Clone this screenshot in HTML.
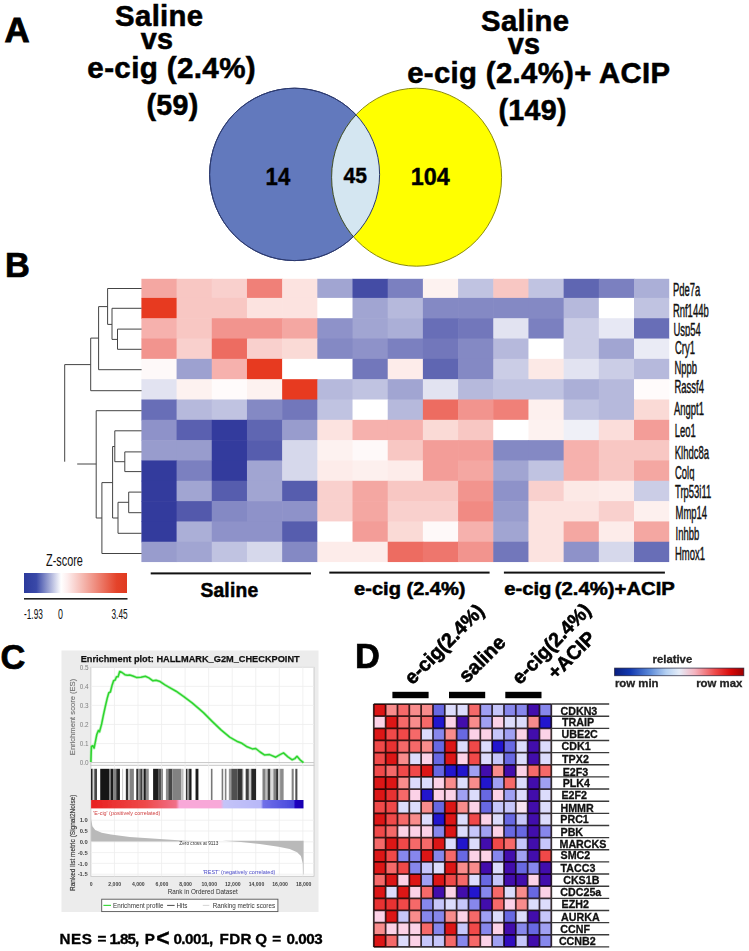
<!DOCTYPE html>
<html><head><meta charset="utf-8"><title>Figure</title>
<style>
html,body{margin:0;padding:0;background:#fff;}
body{width:749px;height:951px;overflow:hidden;font-family:'Liberation Sans', sans-serif;}
svg{display:block;font-family:'Liberation Sans',sans-serif;}
</style></head><body>
<svg width="749" height="951" viewBox="0 0 749 951">
<rect width="749" height="951" fill="#fff"/>
<text x="4.6" y="42" font-size="34.8" font-weight="bold" text-anchor="start" fill="#000" stroke="#000" stroke-width="0.9">A</text>
<text x="159.3" y="25.6" font-size="29.3" font-weight="bold" text-anchor="middle" fill="#000" stroke="#000" stroke-width="0.55" letter-spacing="0.35">Saline</text>
<text x="157" y="49.4" font-size="28.8" font-weight="bold" text-anchor="middle" fill="#000" stroke="#000" stroke-width="0.55" letter-spacing="0.35">vs</text>
<text x="171.7" y="77.6" font-size="29.6" font-weight="bold" text-anchor="middle" fill="#000" stroke="#000" stroke-width="0.55" letter-spacing="0.35">e-cig (2.4%)</text>
<text x="172.6" y="115.2" font-size="28.6" font-weight="bold" text-anchor="middle" fill="#000" stroke="#000" stroke-width="0.55" letter-spacing="0.35">(59)</text>
<text x="525.2" y="30.8" font-size="29.3" font-weight="bold" text-anchor="middle" fill="#000" stroke="#000" stroke-width="0.55" letter-spacing="0.35">Saline</text>
<text x="524" y="53.6" font-size="28.8" font-weight="bold" text-anchor="middle" fill="#000" stroke="#000" stroke-width="0.55" letter-spacing="0.35">vs</text>
<text x="538.8" y="83.2" font-size="29.3" font-weight="bold" text-anchor="middle" fill="#000" stroke="#000" stroke-width="0.55" letter-spacing="0.35">e-cig (2.4%)+ ACIP</text>
<text x="532.7" y="120.4" font-size="28.6" font-weight="bold" text-anchor="middle" fill="#000" stroke="#000" stroke-width="0.55" letter-spacing="0.35">(149)</text>
<defs><clipPath id="cb"><ellipse cx="294.6" cy="174.4" rx="85" ry="86.2"/></clipPath></defs>
<ellipse cx="294.6" cy="174.4" rx="85" ry="86.2" fill="#6279bd" stroke="#2c3a70" stroke-width="1"/>
<ellipse cx="416.6" cy="177.2" rx="85" ry="89" fill="#ffff00" stroke="#8a8a10" stroke-width="1"/>
<ellipse cx="416.6" cy="177.2" rx="85" ry="89" fill="#d4e6f1" stroke="#3a4a40" stroke-width="1" clip-path="url(#cb)"/>
<ellipse cx="294.6" cy="174.4" rx="85" ry="86.2" fill="none" stroke="#2c3a70" stroke-width="1"/>
<text transform="translate(277.9 184.8) scale(0.9 1)" font-size="24.6" font-weight="bold" text-anchor="middle" fill="#000" stroke="#000" stroke-width="0.4">14</text>
<text transform="translate(355.3 183) scale(0.95 1)" font-size="22.2" font-weight="bold" text-anchor="middle" fill="#000" stroke="#000" stroke-width="0.4">45</text>
<text transform="translate(430.3 185.3) scale(0.95 1)" font-size="24.6" font-weight="bold" text-anchor="middle" fill="#000" stroke="#000" stroke-width="0.4">104</text>
<text x="4.9" y="277.2" font-size="34.4" font-weight="bold" text-anchor="start" fill="#000" stroke="#000" stroke-width="0.7">B</text>
<rect x="141.40" y="278.80" width="35.79" height="19.70" fill="rgb(244,167,162)"/>
<rect x="176.59" y="278.80" width="35.79" height="19.70" fill="rgb(248,199,195)"/>
<rect x="211.77" y="278.80" width="35.79" height="19.70" fill="rgb(249,208,205)"/>
<rect x="246.96" y="278.80" width="35.79" height="19.70" fill="rgb(240,128,120)"/>
<rect x="282.15" y="278.80" width="35.79" height="19.70" fill="rgb(252,227,224)"/>
<rect x="317.33" y="278.80" width="35.79" height="19.70" fill="rgb(161,165,210)"/>
<rect x="352.52" y="278.80" width="35.79" height="19.70" fill="rgb(68,76,165)"/>
<rect x="387.71" y="278.80" width="35.79" height="19.70" fill="rgb(123,128,192)"/>
<rect x="422.89" y="278.80" width="35.79" height="19.70" fill="rgb(253,242,240)"/>
<rect x="458.08" y="278.80" width="35.79" height="19.70" fill="rgb(192,195,225)"/>
<rect x="493.27" y="278.80" width="35.79" height="19.70" fill="rgb(248,199,195)"/>
<rect x="528.45" y="278.80" width="35.79" height="19.70" fill="rgb(192,195,225)"/>
<rect x="563.64" y="278.80" width="35.79" height="19.70" fill="rgb(95,102,178)"/>
<rect x="598.83" y="278.80" width="35.79" height="19.70" fill="rgb(123,128,192)"/>
<rect x="634.01" y="278.80" width="35.19" height="19.70" fill="rgb(171,175,215)"/>
<rect x="141.40" y="297.90" width="35.79" height="20.92" fill="rgb(231,58,32)"/>
<rect x="176.59" y="297.90" width="35.79" height="20.92" fill="rgb(248,199,195)"/>
<rect x="211.77" y="297.90" width="35.79" height="20.92" fill="rgb(248,199,195)"/>
<rect x="246.96" y="297.90" width="35.79" height="20.92" fill="rgb(252,227,224)"/>
<rect x="282.15" y="297.90" width="35.79" height="20.92" fill="rgb(252,227,224)"/>
<rect x="317.33" y="297.90" width="35.79" height="20.92" fill="rgb(255,255,255)"/>
<rect x="352.52" y="297.90" width="35.79" height="20.92" fill="rgb(161,165,210)"/>
<rect x="387.71" y="297.90" width="35.79" height="20.92" fill="rgb(182,185,220)"/>
<rect x="422.89" y="297.90" width="35.79" height="20.92" fill="rgb(132,137,196)"/>
<rect x="458.08" y="297.90" width="35.79" height="20.92" fill="rgb(132,137,196)"/>
<rect x="493.27" y="297.90" width="35.79" height="20.92" fill="rgb(132,137,196)"/>
<rect x="528.45" y="297.90" width="35.79" height="20.92" fill="rgb(132,137,196)"/>
<rect x="563.64" y="297.90" width="35.79" height="20.92" fill="rgb(182,185,220)"/>
<rect x="598.83" y="297.90" width="35.79" height="20.92" fill="rgb(255,255,255)"/>
<rect x="634.01" y="297.90" width="35.19" height="20.92" fill="rgb(192,195,225)"/>
<rect x="141.40" y="318.22" width="35.79" height="20.92" fill="rgb(246,177,173)"/>
<rect x="176.59" y="318.22" width="35.79" height="20.92" fill="rgb(248,199,195)"/>
<rect x="211.77" y="318.22" width="35.79" height="20.92" fill="rgb(242,148,142)"/>
<rect x="246.96" y="318.22" width="35.79" height="20.92" fill="rgb(242,148,142)"/>
<rect x="282.15" y="318.22" width="35.79" height="20.92" fill="rgb(244,167,162)"/>
<rect x="317.33" y="318.22" width="35.79" height="20.92" fill="rgb(142,146,201)"/>
<rect x="352.52" y="318.22" width="35.79" height="20.92" fill="rgb(161,165,210)"/>
<rect x="387.71" y="318.22" width="35.79" height="20.92" fill="rgb(171,175,215)"/>
<rect x="422.89" y="318.22" width="35.79" height="20.92" fill="rgb(104,110,183)"/>
<rect x="458.08" y="318.22" width="35.79" height="20.92" fill="rgb(114,119,187)"/>
<rect x="493.27" y="318.22" width="35.79" height="20.92" fill="rgb(226,227,241)"/>
<rect x="528.45" y="318.22" width="35.79" height="20.92" fill="rgb(123,128,192)"/>
<rect x="563.64" y="318.22" width="35.79" height="20.92" fill="rgb(203,205,230)"/>
<rect x="598.83" y="318.22" width="35.79" height="20.92" fill="rgb(231,232,244)"/>
<rect x="634.01" y="318.22" width="35.19" height="20.92" fill="rgb(104,110,183)"/>
<rect x="141.40" y="338.54" width="35.79" height="20.92" fill="rgb(242,148,142)"/>
<rect x="176.59" y="338.54" width="35.79" height="20.92" fill="rgb(249,208,205)"/>
<rect x="211.77" y="338.54" width="35.79" height="20.92" fill="rgb(237,108,97)"/>
<rect x="246.96" y="338.54" width="35.79" height="20.92" fill="rgb(249,208,205)"/>
<rect x="282.15" y="338.54" width="35.79" height="20.92" fill="rgb(250,218,214)"/>
<rect x="317.33" y="338.54" width="35.79" height="20.92" fill="rgb(132,137,196)"/>
<rect x="352.52" y="338.54" width="35.79" height="20.92" fill="rgb(142,146,201)"/>
<rect x="387.71" y="338.54" width="35.79" height="20.92" fill="rgb(123,128,192)"/>
<rect x="422.89" y="338.54" width="35.79" height="20.92" fill="rgb(114,119,187)"/>
<rect x="458.08" y="338.54" width="35.79" height="20.92" fill="rgb(132,137,196)"/>
<rect x="493.27" y="338.54" width="35.79" height="20.92" fill="rgb(182,185,220)"/>
<rect x="528.45" y="338.54" width="35.79" height="20.92" fill="rgb(255,255,255)"/>
<rect x="563.64" y="338.54" width="35.79" height="20.92" fill="rgb(203,205,230)"/>
<rect x="598.83" y="338.54" width="35.79" height="20.92" fill="rgb(161,165,210)"/>
<rect x="634.01" y="338.54" width="35.19" height="20.92" fill="rgb(234,235,245)"/>
<rect x="141.40" y="358.86" width="35.79" height="20.92" fill="rgb(254,249,249)"/>
<rect x="176.59" y="358.86" width="35.79" height="20.92" fill="rgb(157,161,208)"/>
<rect x="211.77" y="358.86" width="35.79" height="20.92" fill="rgb(246,177,173)"/>
<rect x="246.96" y="358.86" width="35.79" height="20.92" fill="rgb(231,58,32)"/>
<rect x="282.15" y="358.86" width="35.79" height="20.92" fill="rgb(255,255,255)"/>
<rect x="317.33" y="358.86" width="35.79" height="20.92" fill="rgb(255,255,255)"/>
<rect x="352.52" y="358.86" width="35.79" height="20.92" fill="rgb(114,119,187)"/>
<rect x="387.71" y="358.86" width="35.79" height="20.92" fill="rgb(253,236,234)"/>
<rect x="422.89" y="358.86" width="35.79" height="20.92" fill="rgb(95,102,178)"/>
<rect x="458.08" y="358.86" width="35.79" height="20.92" fill="rgb(132,137,196)"/>
<rect x="493.27" y="358.86" width="35.79" height="20.92" fill="rgb(203,205,230)"/>
<rect x="528.45" y="358.86" width="35.79" height="20.92" fill="rgb(252,233,230)"/>
<rect x="563.64" y="358.86" width="35.79" height="20.92" fill="rgb(226,227,241)"/>
<rect x="598.83" y="358.86" width="35.79" height="20.92" fill="rgb(203,205,230)"/>
<rect x="634.01" y="358.86" width="35.19" height="20.92" fill="rgb(182,185,220)"/>
<rect x="141.40" y="379.18" width="35.79" height="20.92" fill="rgb(226,227,241)"/>
<rect x="176.59" y="379.18" width="35.79" height="20.92" fill="rgb(253,242,240)"/>
<rect x="211.77" y="379.18" width="35.79" height="20.92" fill="rgb(255,251,251)"/>
<rect x="246.96" y="379.18" width="35.79" height="20.92" fill="rgb(253,242,240)"/>
<rect x="282.15" y="379.18" width="35.79" height="20.92" fill="rgb(231,58,32)"/>
<rect x="317.33" y="379.18" width="35.79" height="20.92" fill="rgb(182,185,220)"/>
<rect x="352.52" y="379.18" width="35.79" height="20.92" fill="rgb(192,195,225)"/>
<rect x="387.71" y="379.18" width="35.79" height="20.92" fill="rgb(161,165,210)"/>
<rect x="422.89" y="379.18" width="35.79" height="20.92" fill="rgb(226,227,241)"/>
<rect x="458.08" y="379.18" width="35.79" height="20.92" fill="rgb(182,185,220)"/>
<rect x="493.27" y="379.18" width="35.79" height="20.92" fill="rgb(192,195,225)"/>
<rect x="528.45" y="379.18" width="35.79" height="20.92" fill="rgb(192,195,225)"/>
<rect x="563.64" y="379.18" width="35.79" height="20.92" fill="rgb(171,175,215)"/>
<rect x="598.83" y="379.18" width="35.79" height="20.92" fill="rgb(182,185,220)"/>
<rect x="634.01" y="379.18" width="35.19" height="20.92" fill="rgb(255,251,251)"/>
<rect x="141.40" y="399.50" width="35.79" height="20.92" fill="rgb(104,110,183)"/>
<rect x="176.59" y="399.50" width="35.79" height="20.92" fill="rgb(182,185,220)"/>
<rect x="211.77" y="399.50" width="35.79" height="20.92" fill="rgb(192,195,225)"/>
<rect x="246.96" y="399.50" width="35.79" height="20.92" fill="rgb(132,137,196)"/>
<rect x="282.15" y="399.50" width="35.79" height="20.92" fill="rgb(114,119,187)"/>
<rect x="317.33" y="399.50" width="35.79" height="20.92" fill="rgb(192,195,225)"/>
<rect x="352.52" y="399.50" width="35.79" height="20.92" fill="rgb(255,255,255)"/>
<rect x="387.71" y="399.50" width="35.79" height="20.92" fill="rgb(182,185,220)"/>
<rect x="422.89" y="399.50" width="35.79" height="20.92" fill="rgb(237,108,97)"/>
<rect x="458.08" y="399.50" width="35.79" height="20.92" fill="rgb(242,148,142)"/>
<rect x="493.27" y="399.50" width="35.79" height="20.92" fill="rgb(240,128,120)"/>
<rect x="528.45" y="399.50" width="35.79" height="20.92" fill="rgb(253,240,238)"/>
<rect x="563.64" y="399.50" width="35.79" height="20.92" fill="rgb(192,195,225)"/>
<rect x="598.83" y="399.50" width="35.79" height="20.92" fill="rgb(182,185,220)"/>
<rect x="634.01" y="399.50" width="35.19" height="20.92" fill="rgb(250,218,214)"/>
<rect x="141.40" y="419.82" width="35.79" height="20.92" fill="rgb(142,146,201)"/>
<rect x="176.59" y="419.82" width="35.79" height="20.92" fill="rgb(90,96,176)"/>
<rect x="211.77" y="419.82" width="35.79" height="20.92" fill="rgb(51,59,157)"/>
<rect x="246.96" y="419.82" width="35.79" height="20.92" fill="rgb(95,102,178)"/>
<rect x="282.15" y="419.82" width="35.79" height="20.92" fill="rgb(152,156,205)"/>
<rect x="317.33" y="419.82" width="35.79" height="20.92" fill="rgb(252,227,224)"/>
<rect x="352.52" y="419.82" width="35.79" height="20.92" fill="rgb(246,177,173)"/>
<rect x="387.71" y="419.82" width="35.79" height="20.92" fill="rgb(246,177,173)"/>
<rect x="422.89" y="419.82" width="35.79" height="20.92" fill="rgb(250,218,214)"/>
<rect x="458.08" y="419.82" width="35.79" height="20.92" fill="rgb(248,199,195)"/>
<rect x="493.27" y="419.82" width="35.79" height="20.92" fill="rgb(255,255,255)"/>
<rect x="528.45" y="419.82" width="35.79" height="20.92" fill="rgb(253,242,240)"/>
<rect x="563.64" y="419.82" width="35.79" height="20.92" fill="rgb(239,240,247)"/>
<rect x="598.83" y="419.82" width="35.79" height="20.92" fill="rgb(251,221,218)"/>
<rect x="634.01" y="419.82" width="35.19" height="20.92" fill="rgb(243,157,152)"/>
<rect x="141.40" y="440.14" width="35.79" height="20.92" fill="rgb(152,156,205)"/>
<rect x="176.59" y="440.14" width="35.79" height="20.92" fill="rgb(152,156,205)"/>
<rect x="211.77" y="440.14" width="35.79" height="20.92" fill="rgb(51,59,157)"/>
<rect x="246.96" y="440.14" width="35.79" height="20.92" fill="rgb(86,93,174)"/>
<rect x="282.15" y="440.14" width="35.79" height="20.92" fill="rgb(214,216,235)"/>
<rect x="317.33" y="440.14" width="35.79" height="20.92" fill="rgb(253,242,240)"/>
<rect x="352.52" y="440.14" width="35.79" height="20.92" fill="rgb(254,249,249)"/>
<rect x="387.71" y="440.14" width="35.79" height="20.92" fill="rgb(248,199,195)"/>
<rect x="422.89" y="440.14" width="35.79" height="20.92" fill="rgb(243,157,152)"/>
<rect x="458.08" y="440.14" width="35.79" height="20.92" fill="rgb(243,157,152)"/>
<rect x="493.27" y="440.14" width="35.79" height="20.92" fill="rgb(132,137,196)"/>
<rect x="528.45" y="440.14" width="35.79" height="20.92" fill="rgb(132,137,196)"/>
<rect x="563.64" y="440.14" width="35.79" height="20.92" fill="rgb(246,177,173)"/>
<rect x="598.83" y="440.14" width="35.79" height="20.92" fill="rgb(248,199,195)"/>
<rect x="634.01" y="440.14" width="35.19" height="20.92" fill="rgb(248,199,195)"/>
<rect x="141.40" y="460.46" width="35.79" height="20.92" fill="rgb(51,59,157)"/>
<rect x="176.59" y="460.46" width="35.79" height="20.92" fill="rgb(123,128,192)"/>
<rect x="211.77" y="460.46" width="35.79" height="20.92" fill="rgb(51,59,157)"/>
<rect x="246.96" y="460.46" width="35.79" height="20.92" fill="rgb(161,165,210)"/>
<rect x="282.15" y="460.46" width="35.79" height="20.92" fill="rgb(214,216,235)"/>
<rect x="317.33" y="460.46" width="35.79" height="20.92" fill="rgb(253,236,234)"/>
<rect x="352.52" y="460.46" width="35.79" height="20.92" fill="rgb(253,240,238)"/>
<rect x="387.71" y="460.46" width="35.79" height="20.92" fill="rgb(253,236,234)"/>
<rect x="422.89" y="460.46" width="35.79" height="20.92" fill="rgb(243,157,152)"/>
<rect x="458.08" y="460.46" width="35.79" height="20.92" fill="rgb(244,167,162)"/>
<rect x="493.27" y="460.46" width="35.79" height="20.92" fill="rgb(161,165,210)"/>
<rect x="528.45" y="460.46" width="35.79" height="20.92" fill="rgb(192,195,225)"/>
<rect x="563.64" y="460.46" width="35.79" height="20.92" fill="rgb(246,177,173)"/>
<rect x="598.83" y="460.46" width="35.79" height="20.92" fill="rgb(248,199,195)"/>
<rect x="634.01" y="460.46" width="35.19" height="20.92" fill="rgb(244,167,162)"/>
<rect x="141.40" y="480.78" width="35.79" height="20.92" fill="rgb(51,59,157)"/>
<rect x="176.59" y="480.78" width="35.79" height="20.92" fill="rgb(161,165,210)"/>
<rect x="211.77" y="480.78" width="35.79" height="20.92" fill="rgb(86,93,174)"/>
<rect x="246.96" y="480.78" width="35.79" height="20.92" fill="rgb(161,165,210)"/>
<rect x="282.15" y="480.78" width="35.79" height="20.92" fill="rgb(86,93,174)"/>
<rect x="317.33" y="480.78" width="35.79" height="20.92" fill="rgb(249,208,205)"/>
<rect x="352.52" y="480.78" width="35.79" height="20.92" fill="rgb(244,167,162)"/>
<rect x="387.71" y="480.78" width="35.79" height="20.92" fill="rgb(248,199,195)"/>
<rect x="422.89" y="480.78" width="35.79" height="20.92" fill="rgb(248,199,195)"/>
<rect x="458.08" y="480.78" width="35.79" height="20.92" fill="rgb(242,148,142)"/>
<rect x="493.27" y="480.78" width="35.79" height="20.92" fill="rgb(142,146,201)"/>
<rect x="528.45" y="480.78" width="35.79" height="20.92" fill="rgb(249,208,205)"/>
<rect x="563.64" y="480.78" width="35.79" height="20.92" fill="rgb(252,233,230)"/>
<rect x="598.83" y="480.78" width="35.79" height="20.92" fill="rgb(253,236,234)"/>
<rect x="634.01" y="480.78" width="35.19" height="20.92" fill="rgb(203,205,230)"/>
<rect x="141.40" y="501.10" width="35.79" height="20.92" fill="rgb(51,59,157)"/>
<rect x="176.59" y="501.10" width="35.79" height="20.92" fill="rgb(83,89,172)"/>
<rect x="211.77" y="501.10" width="35.79" height="20.92" fill="rgb(132,137,196)"/>
<rect x="246.96" y="501.10" width="35.79" height="20.92" fill="rgb(142,146,201)"/>
<rect x="282.15" y="501.10" width="35.79" height="20.92" fill="rgb(142,146,201)"/>
<rect x="317.33" y="501.10" width="35.79" height="20.92" fill="rgb(249,208,205)"/>
<rect x="352.52" y="501.10" width="35.79" height="20.92" fill="rgb(244,167,162)"/>
<rect x="387.71" y="501.10" width="35.79" height="20.92" fill="rgb(249,208,205)"/>
<rect x="422.89" y="501.10" width="35.79" height="20.92" fill="rgb(249,208,205)"/>
<rect x="458.08" y="501.10" width="35.79" height="20.92" fill="rgb(241,138,131)"/>
<rect x="493.27" y="501.10" width="35.79" height="20.92" fill="rgb(152,156,205)"/>
<rect x="528.45" y="501.10" width="35.79" height="20.92" fill="rgb(252,227,224)"/>
<rect x="563.64" y="501.10" width="35.79" height="20.92" fill="rgb(252,227,224)"/>
<rect x="598.83" y="501.10" width="35.79" height="20.92" fill="rgb(249,208,205)"/>
<rect x="634.01" y="501.10" width="35.19" height="20.92" fill="rgb(253,240,238)"/>
<rect x="141.40" y="521.42" width="35.79" height="20.92" fill="rgb(51,59,157)"/>
<rect x="176.59" y="521.42" width="35.79" height="20.92" fill="rgb(171,175,215)"/>
<rect x="211.77" y="521.42" width="35.79" height="20.92" fill="rgb(142,146,201)"/>
<rect x="246.96" y="521.42" width="35.79" height="20.92" fill="rgb(142,146,201)"/>
<rect x="282.15" y="521.42" width="35.79" height="20.92" fill="rgb(86,93,174)"/>
<rect x="317.33" y="521.42" width="35.79" height="20.92" fill="rgb(255,255,255)"/>
<rect x="352.52" y="521.42" width="35.79" height="20.92" fill="rgb(243,157,152)"/>
<rect x="387.71" y="521.42" width="35.79" height="20.92" fill="rgb(250,218,214)"/>
<rect x="422.89" y="521.42" width="35.79" height="20.92" fill="rgb(254,249,249)"/>
<rect x="458.08" y="521.42" width="35.79" height="20.92" fill="rgb(246,177,173)"/>
<rect x="493.27" y="521.42" width="35.79" height="20.92" fill="rgb(161,165,210)"/>
<rect x="528.45" y="521.42" width="35.79" height="20.92" fill="rgb(252,227,224)"/>
<rect x="563.64" y="521.42" width="35.79" height="20.92" fill="rgb(244,167,162)"/>
<rect x="598.83" y="521.42" width="35.79" height="20.92" fill="rgb(253,236,234)"/>
<rect x="634.01" y="521.42" width="35.19" height="20.92" fill="rgb(244,167,162)"/>
<rect x="141.40" y="541.74" width="35.79" height="20.32" fill="rgb(152,156,205)"/>
<rect x="176.59" y="541.74" width="35.79" height="20.32" fill="rgb(161,165,210)"/>
<rect x="211.77" y="541.74" width="35.79" height="20.32" fill="rgb(192,195,225)"/>
<rect x="246.96" y="541.74" width="35.79" height="20.32" fill="rgb(214,216,235)"/>
<rect x="282.15" y="541.74" width="35.79" height="20.32" fill="rgb(132,137,196)"/>
<rect x="317.33" y="541.74" width="35.79" height="20.32" fill="rgb(253,236,234)"/>
<rect x="352.52" y="541.74" width="35.79" height="20.32" fill="rgb(253,236,234)"/>
<rect x="387.71" y="541.74" width="35.79" height="20.32" fill="rgb(237,108,97)"/>
<rect x="422.89" y="541.74" width="35.79" height="20.32" fill="rgb(238,118,109)"/>
<rect x="458.08" y="541.74" width="35.79" height="20.32" fill="rgb(242,148,142)"/>
<rect x="493.27" y="541.74" width="35.79" height="20.32" fill="rgb(114,119,187)"/>
<rect x="528.45" y="541.74" width="35.79" height="20.32" fill="rgb(252,227,224)"/>
<rect x="563.64" y="541.74" width="35.79" height="20.32" fill="rgb(142,146,201)"/>
<rect x="598.83" y="541.74" width="35.79" height="20.32" fill="rgb(214,216,235)"/>
<rect x="634.01" y="541.74" width="35.19" height="20.32" fill="rgb(104,110,183)"/>
<text transform="translate(672.9 295.6) scale(0.52 1)" font-size="18.2" font-weight="normal" text-anchor="start" fill="#111" stroke="#111" stroke-width="0.45">Pde7a</text>
<text transform="translate(672.9 317) scale(0.52 1)" font-size="18.2" font-weight="normal" text-anchor="start" fill="#111" stroke="#111" stroke-width="0.45">Rnf144b</text>
<defs><clipPath id="clUsp54"><rect x="668" y="317.5" width="81" height="19.0"/></clipPath></defs><g clip-path="url(#clUsp54)">
<text transform="translate(673.5 335.5) scale(0.52 1)" font-size="18.2" font-weight="normal" text-anchor="start" fill="#111" stroke="#111" stroke-width="0.45">Usp54</text>
</g>
<text transform="translate(675 353.6) scale(0.52 1)" font-size="18.2" font-weight="normal" text-anchor="start" fill="#111" stroke="#111" stroke-width="0.45">Cry1</text>
<defs><clipPath id="clNppb"><rect x="668" y="356.4" width="81" height="21.0"/></clipPath></defs><g clip-path="url(#clNppb)">
<text transform="translate(674.5 374.4) scale(0.52 1)" font-size="18.2" font-weight="normal" text-anchor="start" fill="#111" stroke="#111" stroke-width="0.45">Nppb</text>
</g>
<text transform="translate(674.5 393.1) scale(0.52 1)" font-size="18.2" font-weight="normal" text-anchor="start" fill="#111" stroke="#111" stroke-width="0.45">Rassf4</text>
<text transform="translate(674 415.2) scale(0.52 1)" font-size="18.2" font-weight="normal" text-anchor="start" fill="#111" stroke="#111" stroke-width="0.45">Angpt1</text>
<text transform="translate(674.8 436.9) scale(0.52 1)" font-size="18.2" font-weight="normal" text-anchor="start" fill="#111" stroke="#111" stroke-width="0.45">Leo1</text>
<text transform="translate(674.8 458.8) scale(0.52 1)" font-size="18.2" font-weight="normal" text-anchor="start" fill="#111" stroke="#111" stroke-width="0.45">Klhdc8a</text>
<defs><clipPath id="clColq"><rect x="668" y="460.6" width="81" height="20.2"/></clipPath></defs><g clip-path="url(#clColq)">
<text transform="translate(675 478.6) scale(0.52 1)" font-size="18.2" font-weight="normal" text-anchor="start" fill="#111" stroke="#111" stroke-width="0.45">Colq</text>
</g>
<text transform="translate(675 498.3) scale(0.52 1)" font-size="18.2" font-weight="normal" text-anchor="start" fill="#111" stroke="#111" stroke-width="0.45">Trp53i11</text>
<text transform="translate(675.5 519.4) scale(0.52 1)" font-size="18.2" font-weight="normal" text-anchor="start" fill="#111" stroke="#111" stroke-width="0.45">Mmp14</text>
<text transform="translate(675.5 539.9) scale(0.52 1)" font-size="18.2" font-weight="normal" text-anchor="start" fill="#111" stroke="#111" stroke-width="0.45">Inhbb</text>
<text transform="translate(675 560.2) scale(0.52 1)" font-size="18.2" font-weight="normal" text-anchor="start" fill="#111" stroke="#111" stroke-width="0.45">Hmox1</text>
<path d="M107.6 288.5H141.6M112 308.3H141.6M117.5 329.1H141.6M117.5 349.3H141.6M117.5 329.1V349.3M112 339.4H117.5M112 308.3V339.4M107.6 324.4H112M107.6 288.5V324.4M98.6 306.6H107.6M98.6 369.7H141.6M98.6 306.6V369.7M90.7 338.1H98.6M90.7 390.7H141.6M90.7 338.1V390.7M64.7 364.6H90.7M64.7 364.6V461.7M96.2 410.7H141.6M96.2 410.7V518M114.8 430.8H141.6M124.8 451.9H141.6M124.8 471.6H141.6M124.8 451.9V471.6M114.8 461.7H124.8M114.8 430.8V461.7M112.6 446.5H114.8M112.6 446.5V518M128.7 492.1H141.6M128.7 512.7H141.6M128.7 492.1V512.7M118 502.3H128.7M118 533.3H141.6M118 502.3V533.3M112.6 518H118M101.9 482.6H112.6M101.9 553.5H141.6M101.9 482.6V553.5M96.2 518H101.9M77.2 464H96.2" fill="none" stroke="#444" stroke-width="1"/>
<text transform="translate(46 566) scale(0.64 1)" font-size="17" font-weight="normal" text-anchor="start" fill="#111" >Z-score</text>
<defs><linearGradient id="zg" x1="0" x2="1" y1="0" y2="0"><stop offset="0" stop-color="#2b3a9c"/><stop offset="0.12" stop-color="#3a49a8"/><stop offset="0.36" stop-color="#ffffff"/><stop offset="0.42" stop-color="#fdeeee"/><stop offset="0.9" stop-color="#e4432a"/><stop offset="1" stop-color="#e03a20"/></linearGradient></defs>
<rect x="24" y="573" width="103" height="20" fill="url(#zg)"/>
<rect x="24" y="598" width="103.5" height="1.6" fill="#222"/>
<text transform="translate(24 618.6) scale(0.56 1)" font-size="14.8" font-weight="normal" text-anchor="start" fill="#111" >-1.93</text>
<text transform="translate(58 618.6) scale(0.6 1)" font-size="14.8" font-weight="normal" text-anchor="start" fill="#111" >0</text>
<text transform="translate(111.5 618.6) scale(0.56 1)" font-size="14.8" font-weight="normal" text-anchor="start" fill="#111" >3.45</text>
<rect x="150.7" y="572.4" width="160.3" height="2" fill="#111"/>
<rect x="329.3" y="571.6" width="160.3" height="2" fill="#111"/>
<rect x="503.9" y="571.6" width="161" height="2" fill="#111"/>
<text x="229.4" y="596.6" font-size="19.3" font-weight="bold" text-anchor="middle" fill="#000" stroke="#000" stroke-width="0.5" letter-spacing="0.2">Saline</text>
<text transform="translate(409.8 595.4) scale(1.14 1)" font-size="17.6" font-weight="bold" text-anchor="middle" fill="#000" stroke="#000" stroke-width="0.5">e-cig (2.4%)</text>
<text transform="translate(589.5 595.4) scale(1.14 1)" font-size="17.8" font-weight="bold" text-anchor="middle" fill="#000" stroke="#000" stroke-width="0.5">e-cig<tspan dx="-2"> </tspan>(2.4%)+ACIP</text>
<text x="0.6" y="668.7" font-size="34.4" font-weight="bold" text-anchor="start" fill="#000" stroke="#000" stroke-width="0.7">C</text>
<defs><filter id="bl" x="-2%" y="-2%" width="104%" height="104%"><feGaussianBlur stdDeviation="0.4"/></filter></defs><g filter="url(#bl)">
<rect x="61.5" y="650.5" width="257" height="261.5" fill="#ececec"/>
<text x="190.2" y="661.7" font-size="9.6" font-weight="bold" text-anchor="middle" fill="#111" textLength="219" lengthAdjust="spacingAndGlyphs" stroke="#111" stroke-width="0.25">Enrichment plot: HALLMARK_G2M_CHECKPOINT</text>
<rect x="90.9" y="667.3" width="223.1" height="98" fill="#fff" stroke="#c4c4c4" stroke-width="0.8"/>
<rect x="90.9" y="765.3" width="223.1" height="111" fill="#fff" stroke="#c4c4c4" stroke-width="0.8"/>
<path d="M114.45 667.3V876.3M138.00 667.3V876.3M161.55 667.3V876.3M185.10 667.3V876.3M208.65 667.3V876.3M232.20 667.3V876.3M255.75 667.3V876.3M279.30 667.3V876.3M302.85 667.3V876.3M90.9 667.30H314M90.9 686.36H314M90.9 705.42H314M90.9 724.48H314M90.9 743.54H314M90.9 762.60H314M90.9 820.20H314M90.9 831.00H314M90.9 841.80H314M90.9 852.60H314M90.9 863.40H314M90.9 874.20H314" stroke="#eeeeee" stroke-width="0.8" fill="none"/>
<path d="M90.9 762.6H314" stroke="#bdbdbd" stroke-width="0.8"/>
<text x="88.6" y="669.5999999999999" font-size="6.4" font-weight="normal" text-anchor="end" fill="#808080" >0.5</text>
<text x="88.6" y="688.6599999999999" font-size="6.4" font-weight="normal" text-anchor="end" fill="#808080" >0.4</text>
<text x="88.6" y="707.7199999999999" font-size="6.4" font-weight="normal" text-anchor="end" fill="#808080" >0.3</text>
<text x="88.6" y="726.7799999999999" font-size="6.4" font-weight="normal" text-anchor="end" fill="#808080" >0.2</text>
<text x="88.6" y="745.8399999999999" font-size="6.4" font-weight="normal" text-anchor="end" fill="#808080" >0.1</text>
<text x="88.6" y="764.8999999999999" font-size="6.4" font-weight="normal" text-anchor="end" fill="#808080" >0.0</text>
<text transform="translate(74.8 717) rotate(-90)" font-size="7.6" font-weight="normal" text-anchor="middle" fill="#777" stroke="#777" stroke-width="0.15">Enrichment score (ES)</text>
<polyline points="90.9,762 91.2,752 91.5,746.5 92.8,745.7 94.1,748.1 95.7,740.1 96.8,734.5 98.4,730.5 99.5,731.8 101.6,724.1 103.2,716.1 105.3,706.5 107.2,698.4 108.8,692.8 110.4,692 112,685.6 113.6,680.8 115.2,680 116.5,676.8 118.1,676.8 119.7,671.5 122,672.5 124.9,674.7 127.3,675.2 129.7,674.9 132.9,676 136.9,677.6 140.9,677.3 145.4,676.3 148.9,677.9 152.9,680.8 156.1,680.3 160.1,681.6 164.9,684.8 169.7,687.6 176.1,691.2 184.1,696.8 192.1,702.9 200,709.7 203.7,712.9 212.4,721.6 221,729.9 229.7,737.2 236.7,741.2 241.9,743.3 247.1,746.8 252.3,748.9 255.7,748.5 260.1,752 264.4,754.9 269.6,754.6 275.7,757.2 280,754.6 283.5,752.9 287.9,756.8 292.2,759.8 294.8,758.6 297,756.3 300,759.8 303.5,762.7" fill="none" stroke="#7be87b" stroke-opacity="0.45" stroke-width="3" stroke-linejoin="round"/>
<polyline points="90.9,762 91.2,752 91.5,746.5 92.8,745.7 94.1,748.1 95.7,740.1 96.8,734.5 98.4,730.5 99.5,731.8 101.6,724.1 103.2,716.1 105.3,706.5 107.2,698.4 108.8,692.8 110.4,692 112,685.6 113.6,680.8 115.2,680 116.5,676.8 118.1,676.8 119.7,671.5 122,672.5 124.9,674.7 127.3,675.2 129.7,674.9 132.9,676 136.9,677.6 140.9,677.3 145.4,676.3 148.9,677.9 152.9,680.8 156.1,680.3 160.1,681.6 164.9,684.8 169.7,687.6 176.1,691.2 184.1,696.8 192.1,702.9 200,709.7 203.7,712.9 212.4,721.6 221,729.9 229.7,737.2 236.7,741.2 241.9,743.3 247.1,746.8 252.3,748.9 255.7,748.5 260.1,752 264.4,754.9 269.6,754.6 275.7,757.2 280,754.6 283.5,752.9 287.9,756.8 292.2,759.8 294.8,758.6 297,756.3 300,759.8 303.5,762.7" fill="none" stroke="#2fd52f" stroke-width="1.55" stroke-linejoin="round"/>
<rect x="91.09" y="768.8" width="1.60" height="31.2" fill="rgb(20,20,20)"/>
<rect x="92.69" y="768.8" width="1.60" height="31.2" fill="rgb(210,210,210)"/>
<rect x="94.29" y="768.8" width="2.72" height="31.2" fill="rgb(70,70,70)"/>
<rect x="100.22" y="768.8" width="8.81" height="31.2" fill="rgb(25,25,25)"/>
<rect x="109.03" y="768.8" width="1.60" height="31.2" fill="rgb(120,120,120)"/>
<rect x="110.63" y="768.8" width="2.40" height="31.2" fill="rgb(30,30,30)"/>
<rect x="113.04" y="768.8" width="2.40" height="31.2" fill="rgb(130,130,130)"/>
<rect x="115.44" y="768.8" width="1.60" height="31.2" fill="rgb(80,80,80)"/>
<rect x="117.04" y="768.8" width="2.88" height="31.2" fill="rgb(30,30,30)"/>
<rect x="122.17" y="768.8" width="0.96" height="31.2" fill="rgb(200,200,200)"/>
<rect x="125.85" y="768.8" width="2.40" height="31.2" fill="rgb(50,50,50)"/>
<rect x="128.26" y="768.8" width="1.60" height="31.2" fill="rgb(190,190,190)"/>
<rect x="129.86" y="768.8" width="4.01" height="31.2" fill="rgb(130,130,130)"/>
<rect x="136.27" y="768.8" width="1.92" height="31.2" fill="rgb(50,50,50)"/>
<rect x="138.19" y="768.8" width="2.08" height="31.2" fill="rgb(140,140,140)"/>
<rect x="140.27" y="768.8" width="2.08" height="31.2" fill="rgb(60,60,60)"/>
<rect x="142.35" y="768.8" width="1.60" height="31.2" fill="rgb(140,140,140)"/>
<rect x="143.96" y="768.8" width="1.92" height="31.2" fill="rgb(30,30,30)"/>
<rect x="145.88" y="768.8" width="2.88" height="31.2" fill="rgb(140,140,140)"/>
<rect x="153.09" y="768.8" width="5.61" height="31.2" fill="rgb(30,30,30)"/>
<rect x="158.69" y="768.8" width="2.40" height="31.2" fill="rgb(80,80,80)"/>
<rect x="161.10" y="768.8" width="1.92" height="31.2" fill="rgb(140,140,140)"/>
<rect x="165.90" y="768.8" width="2.40" height="31.2" fill="rgb(140,140,140)"/>
<rect x="168.31" y="768.8" width="4.01" height="31.2" fill="rgb(70,70,70)"/>
<rect x="172.31" y="768.8" width="8.81" height="31.2" fill="rgb(130,130,130)"/>
<rect x="181.12" y="768.8" width="2.40" height="31.2" fill="rgb(190,190,190)"/>
<rect x="185.93" y="768.8" width="1.60" height="31.2" fill="rgb(50,50,50)"/>
<rect x="187.53" y="768.8" width="1.60" height="31.2" fill="rgb(150,150,150)"/>
<rect x="189.13" y="768.8" width="2.40" height="31.2" fill="rgb(30,30,30)"/>
<rect x="195.54" y="768.8" width="2.88" height="31.2" fill="rgb(30,30,30)"/>
<rect x="210.89" y="768.8" width="1.60" height="31.2" fill="rgb(120,120,120)"/>
<rect x="221.63" y="768.8" width="1.60" height="31.2" fill="rgb(120,120,120)"/>
<rect x="224.83" y="768.8" width="1.60" height="31.2" fill="rgb(130,130,130)"/>
<rect x="228.84" y="768.8" width="2.40" height="31.2" fill="rgb(150,150,150)"/>
<rect x="231.24" y="768.8" width="6.41" height="31.2" fill="rgb(80,80,80)"/>
<rect x="237.65" y="768.8" width="4.33" height="31.2" fill="rgb(50,50,50)"/>
<rect x="241.97" y="768.8" width="1.28" height="31.2" fill="rgb(140,140,140)"/>
<rect x="245.66" y="768.8" width="3.20" height="31.2" fill="rgb(60,60,60)"/>
<rect x="248.86" y="768.8" width="2.40" height="31.2" fill="rgb(200,200,200)"/>
<rect x="251.27" y="768.8" width="4.81" height="31.2" fill="rgb(40,40,40)"/>
<rect x="262.48" y="768.8" width="3.20" height="31.2" fill="rgb(130,130,130)"/>
<rect x="265.68" y="768.8" width="1.92" height="31.2" fill="rgb(190,190,190)"/>
<rect x="267.61" y="768.8" width="2.88" height="31.2" fill="rgb(60,60,60)"/>
<rect x="270.49" y="768.8" width="2.88" height="31.2" fill="rgb(220,220,220)"/>
<rect x="273.37" y="768.8" width="2.72" height="31.2" fill="rgb(130,130,130)"/>
<rect x="276.10" y="768.8" width="2.08" height="31.2" fill="rgb(50,50,50)"/>
<rect x="278.18" y="768.8" width="1.92" height="31.2" fill="rgb(200,200,200)"/>
<rect x="280.10" y="768.8" width="3.52" height="31.2" fill="rgb(140,140,140)"/>
<rect x="291.64" y="768.8" width="2.08" height="31.2" fill="rgb(130,130,130)"/>
<rect x="295.32" y="768.8" width="2.08" height="31.2" fill="rgb(80,80,80)"/>
<defs><linearGradient id="cbar" x1="0" x2="1"><stop offset="0" stop-color="#e82020"/><stop offset="0.25" stop-color="#ee4848"/><stop offset="0.40" stop-color="#f07088"/><stop offset="0.415" stop-color="#f8a8d8"/><stop offset="0.61" stop-color="#f8a8d8"/><stop offset="0.625" stop-color="#c4c4f8"/><stop offset="0.80" stop-color="#b8b8f8"/><stop offset="0.81" stop-color="#7070e8"/><stop offset="0.955" stop-color="#4848dc"/><stop offset="0.96" stop-color="#2000c0"/><stop offset="1" stop-color="#1800b0"/></linearGradient></defs>
<rect x="91.1" y="800" width="212.4" height="8.4" fill="url(#cbar)"/>
<text x="93.3" y="814.6" font-size="5.2" font-weight="normal" text-anchor="start" fill="#d04040" textLength="67" lengthAdjust="spacingAndGlyphs">'E-cig' (positively correlated)</text>
<polygon points="91.1,841.5 91.1,818.7 92.4,826.2 95.2,829.9 101.7,832.7 111,834.6 129.8,837 148.5,838.3 167.1,839.6 185.8,840.7 205,841.3 222,841.5" fill="#b9b9b9"/>
<polygon points="222.4,840.8 303.6,840.8 303.6,875 303.1,873.8 302.8,863.5 300.9,856 297.1,852.3 289.7,849 278.5,846.7 259.8,843.9 241,842" fill="#b9b9b9"/>
<text x="198.8" y="844.6" font-size="4.8" font-weight="normal" text-anchor="middle" fill="#333" textLength="39" lengthAdjust="spacingAndGlyphs">Zero cross at 9113</text>
<text x="202.8" y="873.8" font-size="5.4" font-weight="normal" text-anchor="start" fill="#4a4ac8" textLength="72.5" lengthAdjust="spacingAndGlyphs">'REST' (negatively correlated)</text>
<text x="87.7" y="822.3000000000001" font-size="5.8" font-weight="bold" text-anchor="end" fill="#444" >1.0</text>
<text x="87.7" y="833.1" font-size="5.8" font-weight="bold" text-anchor="end" fill="#444" >0.5</text>
<text x="87.7" y="843.9000000000001" font-size="5.8" font-weight="bold" text-anchor="end" fill="#444" >0.0</text>
<text x="87.7" y="854.7" font-size="5.8" font-weight="bold" text-anchor="end" fill="#444" >-0.5</text>
<text x="87.7" y="865.5000000000001" font-size="5.8" font-weight="bold" text-anchor="end" fill="#444" >-1.0</text>
<text x="87.7" y="876.3000000000001" font-size="5.8" font-weight="bold" text-anchor="end" fill="#444" >-1.5</text>
<text transform="translate(75 842.8) rotate(-90)" font-size="6.6" font-weight="normal" text-anchor="middle" fill="#444" textLength="96.5" lengthAdjust="spacingAndGlyphs" stroke="#444" stroke-width="0.2">Ranked list metric (Signal2Noise)</text>
<text x="91.1" y="885.6" font-size="5.1" font-weight="bold" text-anchor="middle" fill="#444" >0</text>
<text x="114.72" y="885.6" font-size="5.1" font-weight="bold" text-anchor="middle" fill="#444" >2,000</text>
<text x="138.34" y="885.6" font-size="5.1" font-weight="bold" text-anchor="middle" fill="#444" >4,000</text>
<text x="161.95999999999998" y="885.6" font-size="5.1" font-weight="bold" text-anchor="middle" fill="#444" >6,000</text>
<text x="185.57999999999998" y="885.6" font-size="5.1" font-weight="bold" text-anchor="middle" fill="#444" >8,000</text>
<text x="209.2" y="885.6" font-size="5.1" font-weight="bold" text-anchor="middle" fill="#444" >10,000</text>
<text x="232.82" y="885.6" font-size="5.1" font-weight="bold" text-anchor="middle" fill="#444" >12,000</text>
<text x="256.44" y="885.6" font-size="5.1" font-weight="bold" text-anchor="middle" fill="#444" >14,000</text>
<text x="280.06" y="885.6" font-size="5.1" font-weight="bold" text-anchor="middle" fill="#444" >16,000</text>
<text x="303.68" y="885.6" font-size="5.1" font-weight="bold" text-anchor="middle" fill="#444" >18,000</text>
<text x="202.7" y="894.2" font-size="6.4" font-weight="normal" text-anchor="middle" fill="#333" textLength="70" lengthAdjust="spacingAndGlyphs">Rank in Ordered Dataset</text>
<rect x="101.7" y="899.2" width="176.2" height="12.4" fill="#fff" stroke="#555" stroke-width="0.9"/>
<path d="M103.4 905.4H111" stroke="#3cd83c" stroke-width="1.2"/>
<text x="113" y="907.5" font-size="6.3" font-weight="normal" text-anchor="start" fill="#333" textLength="50.4" lengthAdjust="spacingAndGlyphs">Enrichment profile</text>
<path d="M167.1 905.4H174.6" stroke="#333" stroke-width="0.9"/>
<text x="176.5" y="907.5" font-size="6.3" font-weight="normal" text-anchor="start" fill="#333" >Hits</text>
<path d="M202.8 905.4H209.3" stroke="#cfcfcf" stroke-width="0.9"/>
<text x="212.7" y="907.5" font-size="6.3" font-weight="normal" text-anchor="start" fill="#333" textLength="62.4" lengthAdjust="spacingAndGlyphs">Ranking metric scores</text>
</g>
<text x="60.2" y="943.7" font-size="15.2" font-weight="bold" text-anchor="start" fill="#000" stroke="#000" stroke-width="0.35"><tspan x="59.6" letter-spacing="0.5">NES</tspan><tspan x="97.6" letter-spacing="0">=</tspan><tspan x="109.4" letter-spacing="-1.0">1.85,</tspan><tspan x="144.7" letter-spacing="0">P</tspan><tspan x="173.4" letter-spacing="-0.5">0.001,</tspan><tspan x="219.6" letter-spacing="0.3">FDR</tspan><tspan x="255.3" letter-spacing="0">Q</tspan><tspan x="272.3" letter-spacing="0">=</tspan><tspan x="286.6" letter-spacing="-0.5">0.003</tspan></text>
<text x="156.2" y="946.3" font-size="23" font-weight="bold" text-anchor="start" fill="#000" stroke="#000" stroke-width="0.3">&lt;</text>
<text x="355" y="667.7" font-size="34.4" font-weight="bold" text-anchor="start" fill="#000" stroke="#000" stroke-width="0.7">D</text>
<defs><filter id="bd" x="-2%" y="-2%" width="104%" height="104%"><feGaussianBlur stdDeviation="0.7"/></filter></defs><g filter="url(#bd)">
<rect x="373.8" y="704.05" width="177.49999999999994" height="242.85000000000002" fill="#555"/>
<rect x="373.80" y="704.05" width="12.03" height="12.34" fill="rgb(220, 20, 20)"/>
<rect x="385.63" y="704.05" width="12.03" height="12.34" fill="rgb(248, 140, 140)"/>
<rect x="397.47" y="704.05" width="12.03" height="12.34" fill="rgb(245, 105, 105)"/>
<rect x="409.30" y="704.05" width="12.03" height="12.34" fill="rgb(248, 140, 140)"/>
<rect x="421.13" y="704.05" width="12.03" height="12.34" fill="rgb(248, 140, 140)"/>
<rect x="432.97" y="704.05" width="12.03" height="12.34" fill="rgb(104, 104, 226)"/>
<rect x="444.80" y="704.05" width="12.03" height="12.34" fill="rgb(220, 220, 252)"/>
<rect x="456.63" y="704.05" width="12.03" height="12.34" fill="rgb(220, 220, 252)"/>
<rect x="468.47" y="704.05" width="12.03" height="12.34" fill="rgb(245, 105, 105)"/>
<rect x="480.30" y="704.05" width="12.03" height="12.34" fill="rgb(160, 160, 242)"/>
<rect x="492.13" y="704.05" width="12.03" height="12.34" fill="rgb(198, 198, 250)"/>
<rect x="503.97" y="704.05" width="12.03" height="12.34" fill="rgb(135, 135, 236)"/>
<rect x="515.80" y="704.05" width="12.03" height="12.34" fill="rgb(135, 135, 236)"/>
<rect x="527.63" y="704.05" width="12.03" height="12.34" fill="rgb(66, 16, 172)"/>
<rect x="539.47" y="704.05" width="12.03" height="12.34" fill="rgb(135, 135, 236)"/>
<rect x="373.80" y="716.19" width="12.03" height="12.34" fill="rgb(252, 210, 231)"/>
<rect x="385.63" y="716.19" width="12.03" height="12.34" fill="rgb(220, 20, 20)"/>
<rect x="397.47" y="716.19" width="12.03" height="12.34" fill="rgb(245, 105, 105)"/>
<rect x="409.30" y="716.19" width="12.03" height="12.34" fill="rgb(248, 140, 140)"/>
<rect x="421.13" y="716.19" width="12.03" height="12.34" fill="rgb(245, 105, 105)"/>
<rect x="432.97" y="716.19" width="12.03" height="12.34" fill="rgb(34, 18, 205)"/>
<rect x="444.80" y="716.19" width="12.03" height="12.34" fill="rgb(252, 210, 231)"/>
<rect x="456.63" y="716.19" width="12.03" height="12.34" fill="rgb(66, 16, 172)"/>
<rect x="468.47" y="716.19" width="12.03" height="12.34" fill="rgb(248, 140, 140)"/>
<rect x="480.30" y="716.19" width="12.03" height="12.34" fill="rgb(160, 160, 242)"/>
<rect x="492.13" y="716.19" width="12.03" height="12.34" fill="rgb(252, 210, 231)"/>
<rect x="503.97" y="716.19" width="12.03" height="12.34" fill="rgb(220, 220, 252)"/>
<rect x="515.80" y="716.19" width="12.03" height="12.34" fill="rgb(220, 220, 252)"/>
<rect x="527.63" y="716.19" width="12.03" height="12.34" fill="rgb(248, 140, 140)"/>
<rect x="539.47" y="716.19" width="12.03" height="12.34" fill="rgb(34, 18, 205)"/>
<rect x="373.80" y="728.33" width="12.03" height="12.34" fill="rgb(220, 20, 20)"/>
<rect x="385.63" y="728.33" width="12.03" height="12.34" fill="rgb(240, 72, 72)"/>
<rect x="397.47" y="728.33" width="12.03" height="12.34" fill="rgb(240, 72, 72)"/>
<rect x="409.30" y="728.33" width="12.03" height="12.34" fill="rgb(245, 105, 105)"/>
<rect x="421.13" y="728.33" width="12.03" height="12.34" fill="rgb(220, 220, 252)"/>
<rect x="432.97" y="728.33" width="12.03" height="12.34" fill="rgb(135, 135, 236)"/>
<rect x="444.80" y="728.33" width="12.03" height="12.34" fill="rgb(248, 140, 140)"/>
<rect x="456.63" y="728.33" width="12.03" height="12.34" fill="rgb(104, 104, 226)"/>
<rect x="468.47" y="728.33" width="12.03" height="12.34" fill="rgb(252, 210, 231)"/>
<rect x="480.30" y="728.33" width="12.03" height="12.34" fill="rgb(252, 210, 231)"/>
<rect x="492.13" y="728.33" width="12.03" height="12.34" fill="rgb(198, 198, 250)"/>
<rect x="503.97" y="728.33" width="12.03" height="12.34" fill="rgb(160, 160, 242)"/>
<rect x="515.80" y="728.33" width="12.03" height="12.34" fill="rgb(252, 210, 231)"/>
<rect x="527.63" y="728.33" width="12.03" height="12.34" fill="rgb(66, 16, 172)"/>
<rect x="539.47" y="728.33" width="12.03" height="12.34" fill="rgb(252, 210, 231)"/>
<rect x="373.80" y="740.48" width="12.03" height="12.34" fill="rgb(240, 72, 72)"/>
<rect x="385.63" y="740.48" width="12.03" height="12.34" fill="rgb(232, 50, 50)"/>
<rect x="397.47" y="740.48" width="12.03" height="12.34" fill="rgb(245, 105, 105)"/>
<rect x="409.30" y="740.48" width="12.03" height="12.34" fill="rgb(245, 105, 105)"/>
<rect x="421.13" y="740.48" width="12.03" height="12.34" fill="rgb(248, 140, 140)"/>
<rect x="432.97" y="740.48" width="12.03" height="12.34" fill="rgb(104, 104, 226)"/>
<rect x="444.80" y="740.48" width="12.03" height="12.34" fill="rgb(220, 20, 20)"/>
<rect x="456.63" y="740.48" width="12.03" height="12.34" fill="rgb(220, 220, 252)"/>
<rect x="468.47" y="740.48" width="12.03" height="12.34" fill="rgb(240, 72, 72)"/>
<rect x="480.30" y="740.48" width="12.03" height="12.34" fill="rgb(220, 220, 252)"/>
<rect x="492.13" y="740.48" width="12.03" height="12.34" fill="rgb(34, 18, 205)"/>
<rect x="503.97" y="740.48" width="12.03" height="12.34" fill="rgb(104, 104, 226)"/>
<rect x="515.80" y="740.48" width="12.03" height="12.34" fill="rgb(220, 220, 252)"/>
<rect x="527.63" y="740.48" width="12.03" height="12.34" fill="rgb(66, 16, 172)"/>
<rect x="539.47" y="740.48" width="12.03" height="12.34" fill="rgb(220, 220, 252)"/>
<rect x="373.80" y="752.62" width="12.03" height="12.34" fill="rgb(240, 72, 72)"/>
<rect x="385.63" y="752.62" width="12.03" height="12.34" fill="rgb(220, 20, 20)"/>
<rect x="397.47" y="752.62" width="12.03" height="12.34" fill="rgb(248, 140, 140)"/>
<rect x="409.30" y="752.62" width="12.03" height="12.34" fill="rgb(220, 220, 252)"/>
<rect x="421.13" y="752.62" width="12.03" height="12.34" fill="rgb(252, 210, 231)"/>
<rect x="432.97" y="752.62" width="12.03" height="12.34" fill="rgb(104, 104, 226)"/>
<rect x="444.80" y="752.62" width="12.03" height="12.34" fill="rgb(220, 20, 20)"/>
<rect x="456.63" y="752.62" width="12.03" height="12.34" fill="rgb(252, 210, 231)"/>
<rect x="468.47" y="752.62" width="12.03" height="12.34" fill="rgb(240, 72, 72)"/>
<rect x="480.30" y="752.62" width="12.03" height="12.34" fill="rgb(220, 220, 252)"/>
<rect x="492.13" y="752.62" width="12.03" height="12.34" fill="rgb(198, 198, 250)"/>
<rect x="503.97" y="752.62" width="12.03" height="12.34" fill="rgb(104, 104, 226)"/>
<rect x="515.80" y="752.62" width="12.03" height="12.34" fill="rgb(220, 220, 252)"/>
<rect x="527.63" y="752.62" width="12.03" height="12.34" fill="rgb(66, 16, 172)"/>
<rect x="539.47" y="752.62" width="12.03" height="12.34" fill="rgb(220, 220, 252)"/>
<rect x="373.80" y="764.76" width="12.03" height="12.34" fill="rgb(240, 72, 72)"/>
<rect x="385.63" y="764.76" width="12.03" height="12.34" fill="rgb(245, 105, 105)"/>
<rect x="397.47" y="764.76" width="12.03" height="12.34" fill="rgb(240, 72, 72)"/>
<rect x="409.30" y="764.76" width="12.03" height="12.34" fill="rgb(240, 72, 72)"/>
<rect x="421.13" y="764.76" width="12.03" height="12.34" fill="rgb(220, 20, 20)"/>
<rect x="432.97" y="764.76" width="12.03" height="12.34" fill="rgb(104, 104, 226)"/>
<rect x="444.80" y="764.76" width="12.03" height="12.34" fill="rgb(34, 18, 205)"/>
<rect x="456.63" y="764.76" width="12.03" height="12.34" fill="rgb(34, 18, 205)"/>
<rect x="468.47" y="764.76" width="12.03" height="12.34" fill="rgb(160, 160, 242)"/>
<rect x="480.30" y="764.76" width="12.03" height="12.34" fill="rgb(66, 16, 172)"/>
<rect x="492.13" y="764.76" width="12.03" height="12.34" fill="rgb(248, 140, 140)"/>
<rect x="503.97" y="764.76" width="12.03" height="12.34" fill="rgb(66, 16, 172)"/>
<rect x="515.80" y="764.76" width="12.03" height="12.34" fill="rgb(252, 210, 231)"/>
<rect x="527.63" y="764.76" width="12.03" height="12.34" fill="rgb(245, 105, 105)"/>
<rect x="539.47" y="764.76" width="12.03" height="12.34" fill="rgb(245, 105, 105)"/>
<rect x="373.80" y="776.90" width="12.03" height="12.34" fill="rgb(220, 20, 20)"/>
<rect x="385.63" y="776.90" width="12.03" height="12.34" fill="rgb(220, 20, 20)"/>
<rect x="397.47" y="776.90" width="12.03" height="12.34" fill="rgb(248, 140, 140)"/>
<rect x="409.30" y="776.90" width="12.03" height="12.34" fill="rgb(220, 220, 252)"/>
<rect x="421.13" y="776.90" width="12.03" height="12.34" fill="rgb(220, 220, 252)"/>
<rect x="432.97" y="776.90" width="12.03" height="12.34" fill="rgb(252, 210, 231)"/>
<rect x="444.80" y="776.90" width="12.03" height="12.34" fill="rgb(248, 140, 140)"/>
<rect x="456.63" y="776.90" width="12.03" height="12.34" fill="rgb(220, 220, 252)"/>
<rect x="468.47" y="776.90" width="12.03" height="12.34" fill="rgb(248, 140, 140)"/>
<rect x="480.30" y="776.90" width="12.03" height="12.34" fill="rgb(34, 18, 205)"/>
<rect x="492.13" y="776.90" width="12.03" height="12.34" fill="rgb(160, 160, 242)"/>
<rect x="503.97" y="776.90" width="12.03" height="12.34" fill="rgb(245, 105, 105)"/>
<rect x="515.80" y="776.90" width="12.03" height="12.34" fill="rgb(220, 220, 252)"/>
<rect x="527.63" y="776.90" width="12.03" height="12.34" fill="rgb(66, 16, 172)"/>
<rect x="539.47" y="776.90" width="12.03" height="12.34" fill="rgb(160, 160, 242)"/>
<rect x="373.80" y="789.05" width="12.03" height="12.34" fill="rgb(220, 20, 20)"/>
<rect x="385.63" y="789.05" width="12.03" height="12.34" fill="rgb(232, 50, 50)"/>
<rect x="397.47" y="789.05" width="12.03" height="12.34" fill="rgb(245, 105, 105)"/>
<rect x="409.30" y="789.05" width="12.03" height="12.34" fill="rgb(252, 210, 231)"/>
<rect x="421.13" y="789.05" width="12.03" height="12.34" fill="rgb(34, 18, 205)"/>
<rect x="432.97" y="789.05" width="12.03" height="12.34" fill="rgb(252, 210, 231)"/>
<rect x="444.80" y="789.05" width="12.03" height="12.34" fill="rgb(252, 210, 231)"/>
<rect x="456.63" y="789.05" width="12.03" height="12.34" fill="rgb(160, 160, 242)"/>
<rect x="468.47" y="789.05" width="12.03" height="12.34" fill="rgb(220, 220, 252)"/>
<rect x="480.30" y="789.05" width="12.03" height="12.34" fill="rgb(104, 104, 226)"/>
<rect x="492.13" y="789.05" width="12.03" height="12.34" fill="rgb(252, 210, 231)"/>
<rect x="503.97" y="789.05" width="12.03" height="12.34" fill="rgb(160, 160, 242)"/>
<rect x="515.80" y="789.05" width="12.03" height="12.34" fill="rgb(220, 220, 252)"/>
<rect x="527.63" y="789.05" width="12.03" height="12.34" fill="rgb(66, 16, 172)"/>
<rect x="539.47" y="789.05" width="12.03" height="12.34" fill="rgb(220, 220, 252)"/>
<rect x="373.80" y="801.19" width="12.03" height="12.34" fill="rgb(240, 72, 72)"/>
<rect x="385.63" y="801.19" width="12.03" height="12.34" fill="rgb(240, 72, 72)"/>
<rect x="397.47" y="801.19" width="12.03" height="12.34" fill="rgb(220, 220, 252)"/>
<rect x="409.30" y="801.19" width="12.03" height="12.34" fill="rgb(220, 220, 252)"/>
<rect x="421.13" y="801.19" width="12.03" height="12.34" fill="rgb(248, 140, 140)"/>
<rect x="432.97" y="801.19" width="12.03" height="12.34" fill="rgb(104, 104, 226)"/>
<rect x="444.80" y="801.19" width="12.03" height="12.34" fill="rgb(220, 20, 20)"/>
<rect x="456.63" y="801.19" width="12.03" height="12.34" fill="rgb(248, 140, 140)"/>
<rect x="468.47" y="801.19" width="12.03" height="12.34" fill="rgb(252, 210, 231)"/>
<rect x="480.30" y="801.19" width="12.03" height="12.34" fill="rgb(104, 104, 226)"/>
<rect x="492.13" y="801.19" width="12.03" height="12.34" fill="rgb(198, 198, 250)"/>
<rect x="503.97" y="801.19" width="12.03" height="12.34" fill="rgb(198, 198, 250)"/>
<rect x="515.80" y="801.19" width="12.03" height="12.34" fill="rgb(247, 228, 242)"/>
<rect x="527.63" y="801.19" width="12.03" height="12.34" fill="rgb(66, 16, 172)"/>
<rect x="539.47" y="801.19" width="12.03" height="12.34" fill="rgb(220, 220, 252)"/>
<rect x="373.80" y="813.33" width="12.03" height="12.34" fill="rgb(220, 20, 20)"/>
<rect x="385.63" y="813.33" width="12.03" height="12.34" fill="rgb(240, 72, 72)"/>
<rect x="397.47" y="813.33" width="12.03" height="12.34" fill="rgb(245, 105, 105)"/>
<rect x="409.30" y="813.33" width="12.03" height="12.34" fill="rgb(248, 140, 140)"/>
<rect x="421.13" y="813.33" width="12.03" height="12.34" fill="rgb(220, 220, 252)"/>
<rect x="432.97" y="813.33" width="12.03" height="12.34" fill="rgb(34, 18, 205)"/>
<rect x="444.80" y="813.33" width="12.03" height="12.34" fill="rgb(220, 20, 20)"/>
<rect x="456.63" y="813.33" width="12.03" height="12.34" fill="rgb(220, 220, 252)"/>
<rect x="468.47" y="813.33" width="12.03" height="12.34" fill="rgb(240, 72, 72)"/>
<rect x="480.30" y="813.33" width="12.03" height="12.34" fill="rgb(252, 210, 231)"/>
<rect x="492.13" y="813.33" width="12.03" height="12.34" fill="rgb(220, 220, 252)"/>
<rect x="503.97" y="813.33" width="12.03" height="12.34" fill="rgb(104, 104, 226)"/>
<rect x="515.80" y="813.33" width="12.03" height="12.34" fill="rgb(198, 198, 250)"/>
<rect x="527.63" y="813.33" width="12.03" height="12.34" fill="rgb(66, 16, 172)"/>
<rect x="539.47" y="813.33" width="12.03" height="12.34" fill="rgb(220, 220, 252)"/>
<rect x="373.80" y="825.47" width="12.03" height="12.34" fill="rgb(240, 72, 72)"/>
<rect x="385.63" y="825.47" width="12.03" height="12.34" fill="rgb(245, 105, 105)"/>
<rect x="397.47" y="825.47" width="12.03" height="12.34" fill="rgb(252, 210, 231)"/>
<rect x="409.30" y="825.47" width="12.03" height="12.34" fill="rgb(252, 210, 231)"/>
<rect x="421.13" y="825.47" width="12.03" height="12.34" fill="rgb(252, 210, 231)"/>
<rect x="432.97" y="825.47" width="12.03" height="12.34" fill="rgb(135, 135, 236)"/>
<rect x="444.80" y="825.47" width="12.03" height="12.34" fill="rgb(220, 20, 20)"/>
<rect x="456.63" y="825.47" width="12.03" height="12.34" fill="rgb(220, 220, 252)"/>
<rect x="468.47" y="825.47" width="12.03" height="12.34" fill="rgb(198, 198, 250)"/>
<rect x="480.30" y="825.47" width="12.03" height="12.34" fill="rgb(160, 160, 242)"/>
<rect x="492.13" y="825.47" width="12.03" height="12.34" fill="rgb(252, 210, 231)"/>
<rect x="503.97" y="825.47" width="12.03" height="12.34" fill="rgb(104, 104, 226)"/>
<rect x="515.80" y="825.47" width="12.03" height="12.34" fill="rgb(104, 104, 226)"/>
<rect x="527.63" y="825.47" width="12.03" height="12.34" fill="rgb(66, 16, 172)"/>
<rect x="539.47" y="825.47" width="12.03" height="12.34" fill="rgb(135, 135, 236)"/>
<rect x="373.80" y="837.62" width="12.03" height="12.34" fill="rgb(245, 105, 105)"/>
<rect x="385.63" y="837.62" width="12.03" height="12.34" fill="rgb(220, 20, 20)"/>
<rect x="397.47" y="837.62" width="12.03" height="12.34" fill="rgb(240, 72, 72)"/>
<rect x="409.30" y="837.62" width="12.03" height="12.34" fill="rgb(245, 105, 105)"/>
<rect x="421.13" y="837.62" width="12.03" height="12.34" fill="rgb(245, 105, 105)"/>
<rect x="432.97" y="837.62" width="12.03" height="12.34" fill="rgb(220, 20, 20)"/>
<rect x="444.80" y="837.62" width="12.03" height="12.34" fill="rgb(220, 220, 252)"/>
<rect x="456.63" y="837.62" width="12.03" height="12.34" fill="rgb(34, 18, 205)"/>
<rect x="468.47" y="837.62" width="12.03" height="12.34" fill="rgb(220, 220, 252)"/>
<rect x="480.30" y="837.62" width="12.03" height="12.34" fill="rgb(66, 16, 172)"/>
<rect x="492.13" y="837.62" width="12.03" height="12.34" fill="rgb(240, 72, 72)"/>
<rect x="503.97" y="837.62" width="12.03" height="12.34" fill="rgb(245, 105, 105)"/>
<rect x="515.80" y="837.62" width="12.03" height="12.34" fill="rgb(198, 198, 250)"/>
<rect x="527.63" y="837.62" width="12.03" height="12.34" fill="rgb(66, 16, 172)"/>
<rect x="539.47" y="837.62" width="12.03" height="12.34" fill="rgb(198, 198, 250)"/>
<rect x="373.80" y="849.76" width="12.03" height="12.34" fill="rgb(220, 20, 20)"/>
<rect x="385.63" y="849.76" width="12.03" height="12.34" fill="rgb(240, 72, 72)"/>
<rect x="397.47" y="849.76" width="12.03" height="12.34" fill="rgb(135, 135, 236)"/>
<rect x="409.30" y="849.76" width="12.03" height="12.34" fill="rgb(135, 135, 236)"/>
<rect x="421.13" y="849.76" width="12.03" height="12.34" fill="rgb(220, 20, 20)"/>
<rect x="432.97" y="849.76" width="12.03" height="12.34" fill="rgb(135, 135, 236)"/>
<rect x="444.80" y="849.76" width="12.03" height="12.34" fill="rgb(245, 105, 105)"/>
<rect x="456.63" y="849.76" width="12.03" height="12.34" fill="rgb(104, 104, 226)"/>
<rect x="468.47" y="849.76" width="12.03" height="12.34" fill="rgb(252, 210, 231)"/>
<rect x="480.30" y="849.76" width="12.03" height="12.34" fill="rgb(252, 210, 231)"/>
<rect x="492.13" y="849.76" width="12.03" height="12.34" fill="rgb(135, 135, 236)"/>
<rect x="503.97" y="849.76" width="12.03" height="12.34" fill="rgb(66, 16, 172)"/>
<rect x="515.80" y="849.76" width="12.03" height="12.34" fill="rgb(160, 160, 242)"/>
<rect x="527.63" y="849.76" width="12.03" height="12.34" fill="rgb(66, 16, 172)"/>
<rect x="539.47" y="849.76" width="12.03" height="12.34" fill="rgb(240, 72, 72)"/>
<rect x="373.80" y="861.90" width="12.03" height="12.34" fill="rgb(220, 20, 20)"/>
<rect x="385.63" y="861.90" width="12.03" height="12.34" fill="rgb(245, 105, 105)"/>
<rect x="397.47" y="861.90" width="12.03" height="12.34" fill="rgb(240, 72, 72)"/>
<rect x="409.30" y="861.90" width="12.03" height="12.34" fill="rgb(135, 135, 236)"/>
<rect x="421.13" y="861.90" width="12.03" height="12.34" fill="rgb(198, 198, 250)"/>
<rect x="432.97" y="861.90" width="12.03" height="12.34" fill="rgb(220, 220, 252)"/>
<rect x="444.80" y="861.90" width="12.03" height="12.34" fill="rgb(220, 20, 20)"/>
<rect x="456.63" y="861.90" width="12.03" height="12.34" fill="rgb(248, 140, 140)"/>
<rect x="468.47" y="861.90" width="12.03" height="12.34" fill="rgb(248, 140, 140)"/>
<rect x="480.30" y="861.90" width="12.03" height="12.34" fill="rgb(66, 16, 172)"/>
<rect x="492.13" y="861.90" width="12.03" height="12.34" fill="rgb(220, 220, 252)"/>
<rect x="503.97" y="861.90" width="12.03" height="12.34" fill="rgb(66, 16, 172)"/>
<rect x="515.80" y="861.90" width="12.03" height="12.34" fill="rgb(104, 104, 226)"/>
<rect x="527.63" y="861.90" width="12.03" height="12.34" fill="rgb(135, 135, 236)"/>
<rect x="539.47" y="861.90" width="12.03" height="12.34" fill="rgb(66, 16, 172)"/>
<rect x="373.80" y="874.04" width="12.03" height="12.34" fill="rgb(245, 105, 105)"/>
<rect x="385.63" y="874.04" width="12.03" height="12.34" fill="rgb(220, 20, 20)"/>
<rect x="397.47" y="874.04" width="12.03" height="12.34" fill="rgb(252, 210, 231)"/>
<rect x="409.30" y="874.04" width="12.03" height="12.34" fill="rgb(220, 20, 20)"/>
<rect x="421.13" y="874.04" width="12.03" height="12.34" fill="rgb(160, 160, 242)"/>
<rect x="432.97" y="874.04" width="12.03" height="12.34" fill="rgb(220, 20, 20)"/>
<rect x="444.80" y="874.04" width="12.03" height="12.34" fill="rgb(240, 72, 72)"/>
<rect x="456.63" y="874.04" width="12.03" height="12.34" fill="rgb(245, 105, 105)"/>
<rect x="468.47" y="874.04" width="12.03" height="12.34" fill="rgb(220, 220, 252)"/>
<rect x="480.30" y="874.04" width="12.03" height="12.34" fill="rgb(104, 104, 226)"/>
<rect x="492.13" y="874.04" width="12.03" height="12.34" fill="rgb(198, 198, 250)"/>
<rect x="503.97" y="874.04" width="12.03" height="12.34" fill="rgb(66, 16, 172)"/>
<rect x="515.80" y="874.04" width="12.03" height="12.34" fill="rgb(66, 16, 172)"/>
<rect x="527.63" y="874.04" width="12.03" height="12.34" fill="rgb(252, 210, 231)"/>
<rect x="539.47" y="874.04" width="12.03" height="12.34" fill="rgb(66, 16, 172)"/>
<rect x="373.80" y="886.19" width="12.03" height="12.34" fill="rgb(220, 20, 20)"/>
<rect x="385.63" y="886.19" width="12.03" height="12.34" fill="rgb(220, 220, 252)"/>
<rect x="397.47" y="886.19" width="12.03" height="12.34" fill="rgb(220, 20, 20)"/>
<rect x="409.30" y="886.19" width="12.03" height="12.34" fill="rgb(252, 210, 231)"/>
<rect x="421.13" y="886.19" width="12.03" height="12.34" fill="rgb(245, 105, 105)"/>
<rect x="432.97" y="886.19" width="12.03" height="12.34" fill="rgb(66, 16, 172)"/>
<rect x="444.80" y="886.19" width="12.03" height="12.34" fill="rgb(252, 210, 231)"/>
<rect x="456.63" y="886.19" width="12.03" height="12.34" fill="rgb(66, 16, 172)"/>
<rect x="468.47" y="886.19" width="12.03" height="12.34" fill="rgb(34, 18, 205)"/>
<rect x="480.30" y="886.19" width="12.03" height="12.34" fill="rgb(135, 135, 236)"/>
<rect x="492.13" y="886.19" width="12.03" height="12.34" fill="rgb(245, 105, 105)"/>
<rect x="503.97" y="886.19" width="12.03" height="12.34" fill="rgb(220, 220, 252)"/>
<rect x="515.80" y="886.19" width="12.03" height="12.34" fill="rgb(248, 140, 140)"/>
<rect x="527.63" y="886.19" width="12.03" height="12.34" fill="rgb(104, 104, 226)"/>
<rect x="539.47" y="886.19" width="12.03" height="12.34" fill="rgb(252, 210, 231)"/>
<rect x="373.80" y="898.33" width="12.03" height="12.34" fill="rgb(232, 50, 50)"/>
<rect x="385.63" y="898.33" width="12.03" height="12.34" fill="rgb(232, 50, 50)"/>
<rect x="397.47" y="898.33" width="12.03" height="12.34" fill="rgb(240, 72, 72)"/>
<rect x="409.30" y="898.33" width="12.03" height="12.34" fill="rgb(245, 105, 105)"/>
<rect x="421.13" y="898.33" width="12.03" height="12.34" fill="rgb(135, 135, 236)"/>
<rect x="432.97" y="898.33" width="12.03" height="12.34" fill="rgb(198, 198, 250)"/>
<rect x="444.80" y="898.33" width="12.03" height="12.34" fill="rgb(220, 220, 252)"/>
<rect x="456.63" y="898.33" width="12.03" height="12.34" fill="rgb(198, 198, 250)"/>
<rect x="468.47" y="898.33" width="12.03" height="12.34" fill="rgb(135, 135, 236)"/>
<rect x="480.30" y="898.33" width="12.03" height="12.34" fill="rgb(66, 16, 172)"/>
<rect x="492.13" y="898.33" width="12.03" height="12.34" fill="rgb(245, 105, 105)"/>
<rect x="503.97" y="898.33" width="12.03" height="12.34" fill="rgb(252, 210, 231)"/>
<rect x="515.80" y="898.33" width="12.03" height="12.34" fill="rgb(248, 140, 140)"/>
<rect x="527.63" y="898.33" width="12.03" height="12.34" fill="rgb(220, 220, 252)"/>
<rect x="539.47" y="898.33" width="12.03" height="12.34" fill="rgb(220, 220, 252)"/>
<rect x="373.80" y="910.47" width="12.03" height="12.34" fill="rgb(252, 210, 231)"/>
<rect x="385.63" y="910.47" width="12.03" height="12.34" fill="rgb(220, 20, 20)"/>
<rect x="397.47" y="910.47" width="12.03" height="12.34" fill="rgb(198, 198, 250)"/>
<rect x="409.30" y="910.47" width="12.03" height="12.34" fill="rgb(248, 140, 140)"/>
<rect x="421.13" y="910.47" width="12.03" height="12.34" fill="rgb(135, 135, 236)"/>
<rect x="432.97" y="910.47" width="12.03" height="12.34" fill="rgb(135, 135, 236)"/>
<rect x="444.80" y="910.47" width="12.03" height="12.34" fill="rgb(248, 140, 140)"/>
<rect x="456.63" y="910.47" width="12.03" height="12.34" fill="rgb(252, 210, 231)"/>
<rect x="468.47" y="910.47" width="12.03" height="12.34" fill="rgb(245, 105, 105)"/>
<rect x="480.30" y="910.47" width="12.03" height="12.34" fill="rgb(160, 160, 242)"/>
<rect x="492.13" y="910.47" width="12.03" height="12.34" fill="rgb(220, 220, 252)"/>
<rect x="503.97" y="910.47" width="12.03" height="12.34" fill="rgb(104, 104, 226)"/>
<rect x="515.80" y="910.47" width="12.03" height="12.34" fill="rgb(220, 220, 252)"/>
<rect x="527.63" y="910.47" width="12.03" height="12.34" fill="rgb(66, 16, 172)"/>
<rect x="539.47" y="910.47" width="12.03" height="12.34" fill="rgb(198, 198, 250)"/>
<rect x="373.80" y="922.62" width="12.03" height="12.34" fill="rgb(248, 140, 140)"/>
<rect x="385.63" y="922.62" width="12.03" height="12.34" fill="rgb(252, 210, 231)"/>
<rect x="397.47" y="922.62" width="12.03" height="12.34" fill="rgb(252, 210, 231)"/>
<rect x="409.30" y="922.62" width="12.03" height="12.34" fill="rgb(252, 210, 231)"/>
<rect x="421.13" y="922.62" width="12.03" height="12.34" fill="rgb(245, 105, 105)"/>
<rect x="432.97" y="922.62" width="12.03" height="12.34" fill="rgb(135, 135, 236)"/>
<rect x="444.80" y="922.62" width="12.03" height="12.34" fill="rgb(220, 20, 20)"/>
<rect x="456.63" y="922.62" width="12.03" height="12.34" fill="rgb(198, 198, 250)"/>
<rect x="468.47" y="922.62" width="12.03" height="12.34" fill="rgb(240, 72, 72)"/>
<rect x="480.30" y="922.62" width="12.03" height="12.34" fill="rgb(135, 135, 236)"/>
<rect x="492.13" y="922.62" width="12.03" height="12.34" fill="rgb(252, 210, 231)"/>
<rect x="503.97" y="922.62" width="12.03" height="12.34" fill="rgb(66, 16, 172)"/>
<rect x="515.80" y="922.62" width="12.03" height="12.34" fill="rgb(135, 135, 236)"/>
<rect x="527.63" y="922.62" width="12.03" height="12.34" fill="rgb(104, 104, 226)"/>
<rect x="539.47" y="922.62" width="12.03" height="12.34" fill="rgb(160, 160, 242)"/>
<rect x="373.80" y="934.76" width="12.03" height="12.34" fill="rgb(220, 20, 20)"/>
<rect x="385.63" y="934.76" width="12.03" height="12.34" fill="rgb(245, 105, 105)"/>
<rect x="397.47" y="934.76" width="12.03" height="12.34" fill="rgb(220, 220, 252)"/>
<rect x="409.30" y="934.76" width="12.03" height="12.34" fill="rgb(252, 210, 231)"/>
<rect x="421.13" y="934.76" width="12.03" height="12.34" fill="rgb(198, 198, 250)"/>
<rect x="432.97" y="934.76" width="12.03" height="12.34" fill="rgb(198, 198, 250)"/>
<rect x="444.80" y="934.76" width="12.03" height="12.34" fill="rgb(245, 105, 105)"/>
<rect x="456.63" y="934.76" width="12.03" height="12.34" fill="rgb(135, 135, 236)"/>
<rect x="468.47" y="934.76" width="12.03" height="12.34" fill="rgb(245, 105, 105)"/>
<rect x="480.30" y="934.76" width="12.03" height="12.34" fill="rgb(252, 210, 231)"/>
<rect x="492.13" y="934.76" width="12.03" height="12.34" fill="rgb(160, 160, 242)"/>
<rect x="503.97" y="934.76" width="12.03" height="12.34" fill="rgb(50, 16, 190)"/>
<rect x="515.80" y="934.76" width="12.03" height="12.34" fill="rgb(198, 198, 250)"/>
<rect x="527.63" y="934.76" width="12.03" height="12.34" fill="rgb(66, 16, 172)"/>
<rect x="539.47" y="934.76" width="12.03" height="12.34" fill="rgb(135, 135, 236)"/>
<path d="M373.80 704.05V946.9M385.63 704.05V946.9M397.47 704.05V946.9M409.30 704.05V946.9M421.13 704.05V946.9M432.97 704.05V946.9M444.80 704.05V946.9M456.63 704.05V946.9M468.47 704.05V946.9M480.30 704.05V946.9M492.13 704.05V946.9M503.97 704.05V946.9M515.80 704.05V946.9M527.63 704.05V946.9M539.47 704.05V946.9M551.30 704.05V946.9M373.8 704.05H551.3M373.8 716.19H551.3M373.8 728.33H551.3M373.8 740.48H551.3M373.8 752.62H551.3M373.8 764.76H551.3M373.8 776.90H551.3M373.8 789.05H551.3M373.8 801.19H551.3M373.8 813.33H551.3M373.8 825.47H551.3M373.8 837.62H551.3M373.8 849.76H551.3M373.8 861.90H551.3M373.8 874.04H551.3M373.8 886.19H551.3M373.8 898.33H551.3M373.8 910.47H551.3M373.8 922.62H551.3M373.8 934.76H551.3M373.8 946.90H551.3" stroke="#0c0000" stroke-opacity="0.78" stroke-width="1.75" fill="none"/>
</g>
<path d="M551.3 704.05H609.2M551.3 716.19H609.2M551.3 728.33H609.2M551.3 740.48H609.2M551.3 752.62H609.2M551.3 764.76H609.2M551.3 776.90H609.2M551.3 789.05H609.2M551.3 801.19H609.2M551.3 813.33H609.2M551.3 825.47H609.2M551.3 837.62H609.2M551.3 849.76H609.2M551.3 861.90H609.2M551.3 874.04H609.2M551.3 886.19H609.2M551.3 898.33H609.2M551.3 910.47H609.2M551.3 922.62H609.2M551.3 934.76H609.2M551.3 946.90H609.2" stroke="#3a3a3a" stroke-width="1.4" fill="none"/>
<text x="560.5" y="714.5925" font-size="10.7" font-weight="bold" text-anchor="start" fill="#111" stroke="#111" stroke-width="0.3">CDKN3</text>
<text x="562.1" y="725.6349999999999" font-size="10.7" font-weight="bold" text-anchor="start" fill="#111" stroke="#111" stroke-width="0.3">TRAIP</text>
<text x="561.6" y="737.7774999999999" font-size="10.7" font-weight="bold" text-anchor="start" fill="#111" stroke="#111" stroke-width="0.3">UBE2C</text>
<text x="561.6" y="750.02" font-size="10.7" font-weight="bold" text-anchor="start" fill="#111" stroke="#111" stroke-width="0.3">CDK1</text>
<text x="562.1" y="762.9624999999999" font-size="10.7" font-weight="bold" text-anchor="start" fill="#111" stroke="#111" stroke-width="0.3">TPX2</text>
<text x="562.7" y="775.805" font-size="10.7" font-weight="bold" text-anchor="start" fill="#111" stroke="#111" stroke-width="0.3">E2F3</text>
<text x="562.7" y="786.7475" font-size="10.7" font-weight="bold" text-anchor="start" fill="#111" stroke="#111" stroke-width="0.3">PLK4</text>
<text x="561.4" y="798.9899999999999" font-size="10.7" font-weight="bold" text-anchor="start" fill="#111" stroke="#111" stroke-width="0.3">E2F2</text>
<text x="560.5" y="812.0324999999999" font-size="10.7" font-weight="bold" text-anchor="start" fill="#111" stroke="#111" stroke-width="0.3">HMMR</text>
<text x="560.3" y="823.2749999999999" font-size="10.7" font-weight="bold" text-anchor="start" fill="#111" stroke="#111" stroke-width="0.3">PRC1</text>
<text x="560.5" y="836.1175" font-size="10.7" font-weight="bold" text-anchor="start" fill="#111" stroke="#111" stroke-width="0.3">PBK</text>
<text x="559.5" y="848.3599999999999" font-size="10.7" font-weight="bold" text-anchor="start" fill="#111" stroke="#111" stroke-width="0.3">MARCKS</text>
<text x="560.5" y="858.9024999999999" font-size="10.7" font-weight="bold" text-anchor="start" fill="#111" stroke="#111" stroke-width="0.3">SMC2</text>
<text x="560.5" y="872.2449999999999" font-size="10.7" font-weight="bold" text-anchor="start" fill="#111" stroke="#111" stroke-width="0.3">TACC3</text>
<text x="563.2" y="883.9875" font-size="10.7" font-weight="bold" text-anchor="start" fill="#111" stroke="#111" stroke-width="0.3">CKS1B</text>
<text x="560.3" y="896.3299999999999" font-size="10.7" font-weight="bold" text-anchor="start" fill="#111" stroke="#111" stroke-width="0.3">CDC25a</text>
<text x="561.6" y="907.5724999999999" font-size="10.7" font-weight="bold" text-anchor="start" fill="#111" stroke="#111" stroke-width="0.3">EZH2</text>
<text x="561.1" y="920.8149999999999" font-size="10.7" font-weight="bold" text-anchor="start" fill="#111" stroke="#111" stroke-width="0.3">AURKA</text>
<text x="560.3" y="932.9574999999999" font-size="10.7" font-weight="bold" text-anchor="start" fill="#111" stroke="#111" stroke-width="0.3">CCNF</text>
<text x="558.9" y="944.6999999999999" font-size="10.7" font-weight="bold" text-anchor="start" fill="#111" stroke="#111" stroke-width="0.3">CCNB2</text>
<rect x="392.4" y="691.8" width="36.2" height="6.4" fill="#000"/>
<rect x="449" y="691.8" width="36.2" height="6.4" fill="#000"/>
<rect x="505.3" y="691.8" width="36.2" height="6.4" fill="#000"/>
<text transform="translate(412.6 685.6) rotate(-45.3)" font-size="19.6" font-weight="bold" text-anchor="start" fill="#000" stroke="#000" stroke-width="0.6">e-cig(2.4%)</text>
<text transform="translate(466.7 683.8) rotate(-45)" font-size="20" font-weight="bold" text-anchor="start" fill="#000" stroke="#000" stroke-width="0.6">saline</text>
<text transform="translate(520 685.4) rotate(-45.8)" font-size="19.6" font-weight="bold" text-anchor="start" fill="#000" stroke="#000" stroke-width="0.6">e-cig(2.4%)</text>
<text transform="translate(555.6 680.2) rotate(-45)" font-size="19.5" font-weight="bold" text-anchor="start" fill="#000" stroke="#000" stroke-width="0.6">+ACIP</text>
<text x="672.4" y="662.9" font-size="11.3" font-weight="bold" text-anchor="middle" fill="#222" stroke="#222" stroke-width="0.3">relative</text>
<defs><linearGradient id="rg" x1="0" x2="1"><stop offset="0" stop-color="#0a1f80"/><stop offset="0.12" stop-color="#1238b0"/><stop offset="0.27" stop-color="#5a88d8"/><stop offset="0.40" stop-color="#b4d0f2"/><stop offset="0.50" stop-color="#e4ecf8"/><stop offset="0.62" stop-color="#f4b4c0"/><stop offset="0.78" stop-color="#ee4848"/><stop offset="0.9" stop-color="#d80808"/><stop offset="1" stop-color="#9c0000"/></linearGradient></defs>
<rect x="614.6" y="668.1" width="129.2" height="7.6" fill="url(#rg)" stroke="#14142c" stroke-opacity="0.75" stroke-width="0.9"/>
<text x="614.9" y="687.4" font-size="11.4" font-weight="bold" text-anchor="start" fill="#222" stroke="#222" stroke-width="0.3">row min</text>
<text x="742.4" y="687.4" font-size="11.4" font-weight="bold" text-anchor="end" fill="#222" stroke="#222" stroke-width="0.3">row max</text>
</svg>
</body></html>
